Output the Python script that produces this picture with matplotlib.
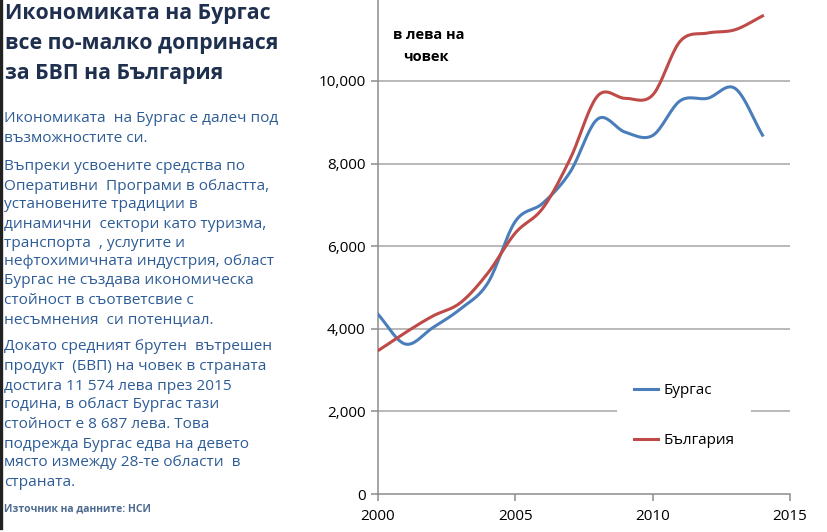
import numpy as np
import matplotlib
matplotlib.use("Agg")
import matplotlib.pyplot as plt
from matplotlib.ticker import FuncFormatter

plt.rcParams['font.family'] = ['Open Sans', 'DejaVu Sans']

# GDP per capita, leva per person (NSI)
years = [2000, 2001, 2002, 2003, 2004, 2005, 2006, 2007,
         2008, 2009, 2010, 2011, 2012, 2013, 2014]
burgas = [4350, 3630, 4030, 4480, 5110, 6600, 7040, 7800,
          9080, 8760, 8680, 9520, 9580, 9820, 8687]
bulgaria = [3470, 3910, 4310, 4630, 5350, 6320, 6920, 8120,
            9640, 9580, 9660, 10960, 11160, 11240, 11574]
series_names = ['Бургас', 'България']

title_lines = ['Икономиката на Бургас', 'все по-малко допринася', 'за БВП на България']
body_lines = [
    ('Икономиката  на Бургас е далеч под', 118),
    ('възможностите си.', 138),
    ('Въпреки усвоените средства по', 166),
    ('Оперативни  Програми в областта,', 186),
    ('установените традиции в', 205),
    ('динамични  сектори като туризма,', 224),
    ('транспорта  , услугите и', 243),
    ('нефтохимичната индустрия, област', 262),
    ('Бургас не създава икономическа', 281),
    ('стойност в съответсвие с', 300),
    ('несъмнения  си потенциал.', 320),
    ('Докато средният брутен  вътрешен', 347),
    ('продукт  (БВП) на човек в страната', 367),
    ('достига 11 574 лева през 2015', 386),
    ('година, в област Бургас тази', 405),
    ('стойност е 8 687 лева. Това', 425),
    ('подрежда Бургас едва на девето', 444),
    ('място измежду 28-те области  в', 463),
    ('страната.', 482),
]


def smooth(x, y, n=20):
    # Catmull-Rom path through the points, like Excel's smoothed line
    x = np.asarray(x, float)
    y = np.asarray(y, float)
    px = np.concatenate([[2 * x[0] - x[1]], x, [2 * x[-1] - x[-2]]])
    py = np.concatenate([[2 * y[0] - y[1]], y, [2 * y[-1] - y[-2]]])
    xs, ys = [], []
    t = np.linspace(0, 1, n, endpoint=False)
    for i in range(1, len(px) - 2):
        for arr, out in ((px, xs), (py, ys)):
            p0, p1, p2, p3 = arr[i - 1], arr[i], arr[i + 1], arr[i + 2]
            out.extend(0.5 * (2 * p1 + (-p0 + p2) * t
                              + (2 * p0 - 5 * p1 + 4 * p2 - p3) * t ** 2
                              + (-p0 + 3 * p1 - 3 * p2 + p3) * t ** 3))
    xs.append(x[-1])
    ys.append(y[-1])
    return np.array(xs), np.array(ys)


W, H = 827, 532
fig = plt.figure(figsize=(W / 100, H / 100), dpi=100)
fig.patch.set_facecolor('white')

ax = fig.add_axes([378 / W, (H - 494) / H, 412 / W, 494 / H])
ax.set_xlim(2000, 2015)
ax.set_ylim(0, 11960)

grid_c = '#a6a6a6'
for v in [2000, 4000, 6000, 8000, 10000]:
    ax.axhline(v, color=grid_c, lw=1.1, zorder=1)

bx, by = smooth(years, burgas)
gx, gy = smooth(years, bulgaria)
ax.plot(bx, by, color='#4a7ebb', lw=2.2, label=series_names[0], zorder=3)
ax.plot(gx, gy, color='#be4b48', lw=2.2, label=series_names[1], zorder=3)

ax.set_yticks([0, 2000, 4000, 6000, 8000, 10000])
ax.yaxis.set_major_formatter(FuncFormatter(lambda v, p: f'{int(v):,}'))
ax.set_xticks([2000, 2005, 2010, 2015])
for s in ['top', 'right']:
    ax.spines[s].set_visible(False)
for s in ['left', 'bottom']:
    ax.spines[s].set_color('#8c8c8c')
    ax.spines[s].set_linewidth(1.1)
ax.tick_params(axis='both', colors='#8c8c8c', length=5, width=1.1, labelsize=11,
               labelcolor='black', direction='out')
ax.tick_params(axis='x', pad=6)
ax.tick_params(axis='y', pad=4)

ax.text(0.036, 0.929, 'в лева на', transform=ax.transAxes, fontsize=10.5,
        fontweight='bold', va='center', ha='left')
ax.text(0.062, 0.885, 'човек', transform=ax.transAxes, fontsize=10.5,
        fontweight='bold', va='center', ha='left')

leg = ax.legend(loc='upper left', bbox_to_anchor=(0.58, 0.258), frameon=True,
                facecolor='white', edgecolor='none', framealpha=1, fontsize=11,
                handlelength=1.6, handletextpad=0.35, labelspacing=2.3,
                borderpad=1.1, borderaxespad=0)
leg.set_zorder(2)

# text panel on the left
fig.add_artist(plt.Line2D([1.2 / W, 1.2 / W], [1 - 528 / H, 1], color='#222222', lw=2.4))
for i, line in enumerate(title_lines):
    fig.text(5 / W, 1 - (13 + 30 * i) / H, line, fontsize=15.3, fontweight='bold',
             color='#1f2f4e', va='center', ha='left')
for line, yy in body_lines:
    fig.text(4 / W, 1 - yy / H, line, fontsize=11.1, color='#2e5c96',
             va='center', ha='left')
fig.text(4 / W, 1 - 509 / H, 'Източник на данните: НСИ', fontsize=7.5,
         fontweight='bold', color='#4d6b91', va='center', ha='left')

fig.savefig('out.png', dpi=100)
